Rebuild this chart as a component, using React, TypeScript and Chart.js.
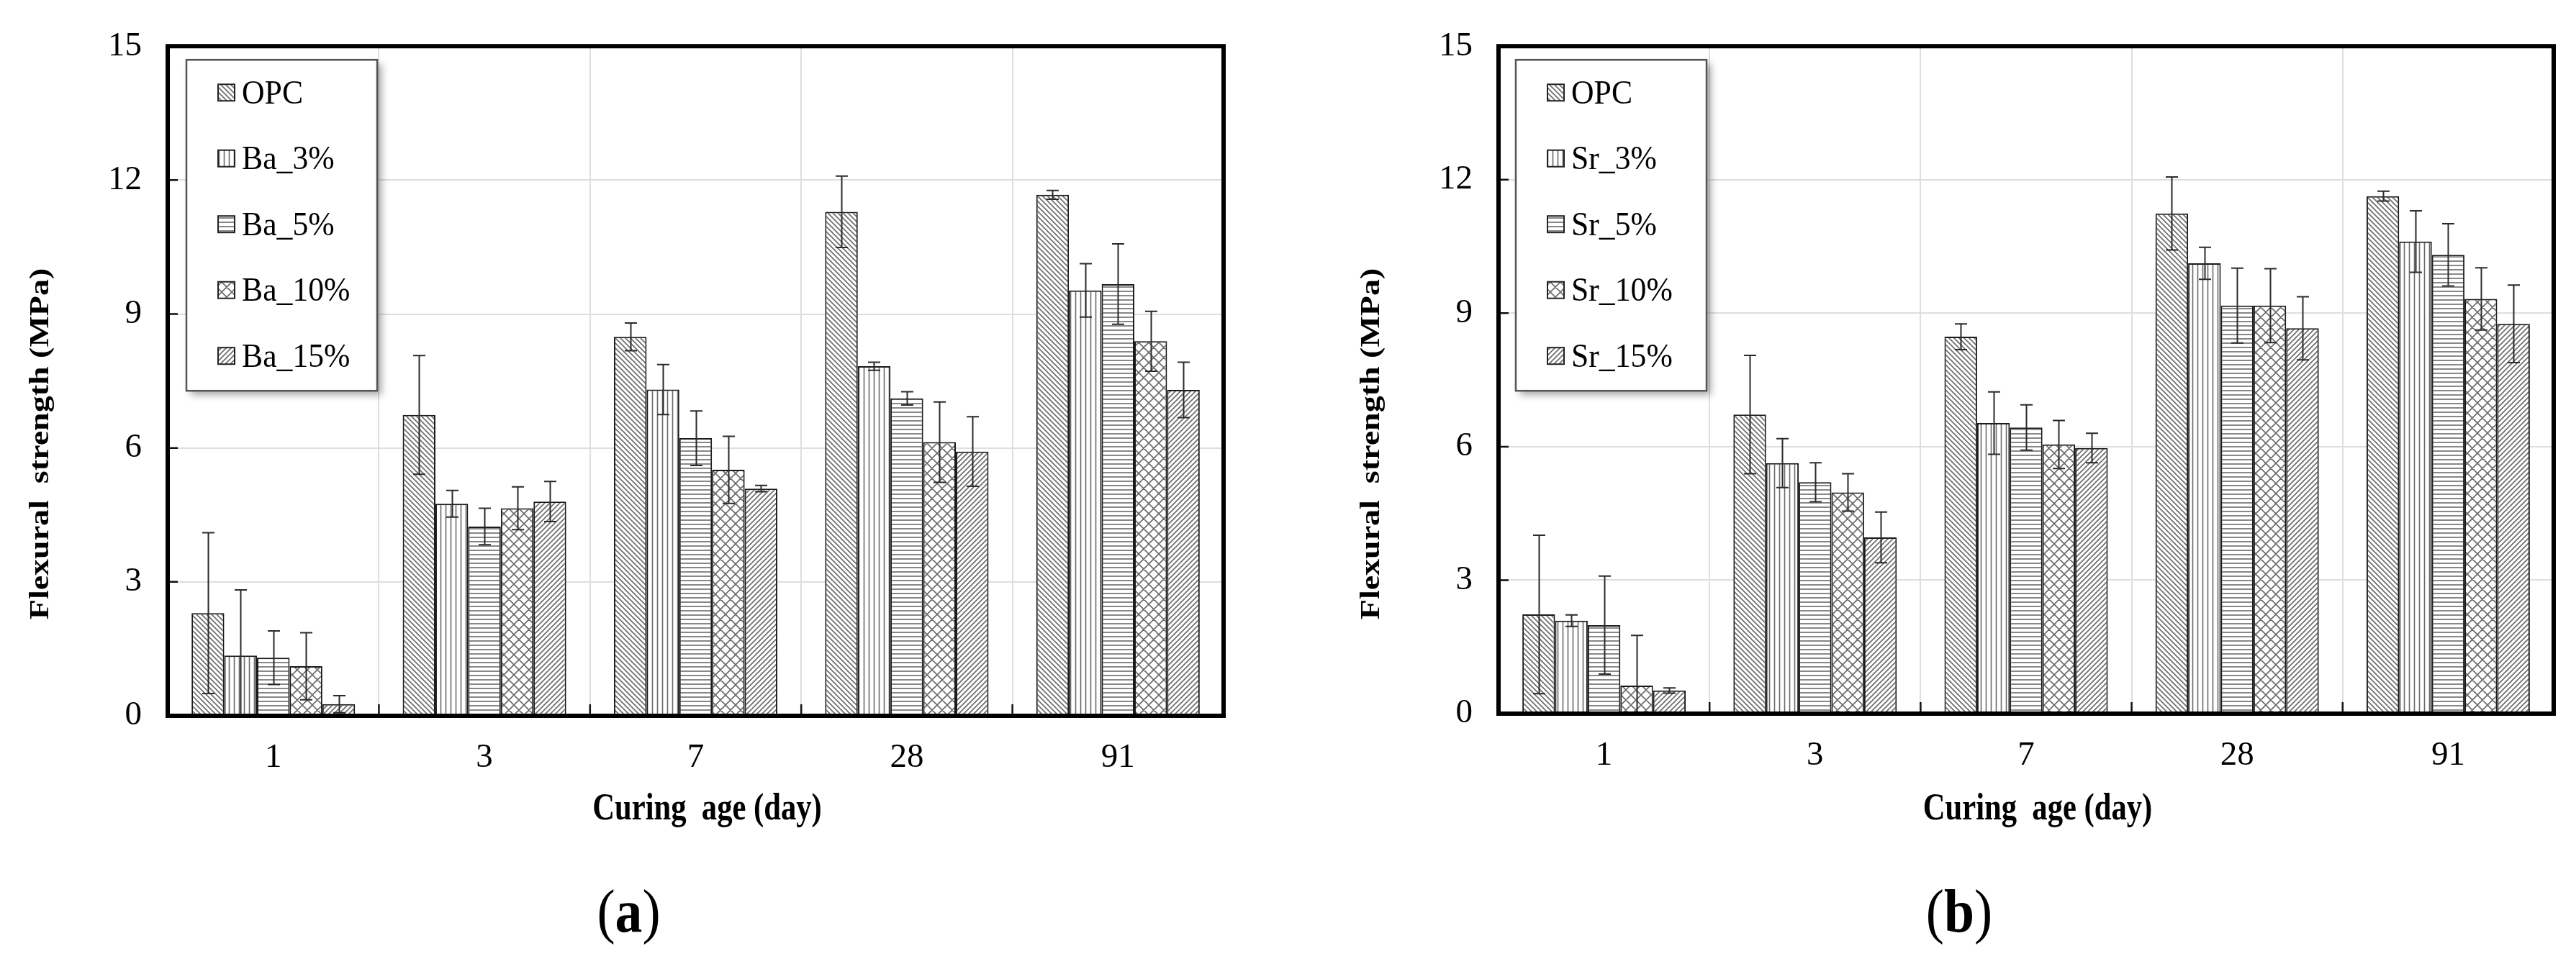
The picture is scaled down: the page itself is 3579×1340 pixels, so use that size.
import React, { useEffect, useRef } from 'react';
import { Chart, registerables } from 'chart.js';
Chart.register(...registerables);

// ---------- data ----------
const categories = ['1', '3', '7', '28', '91'];
const yTickStep = 3;
const yMax = 15;

const seriesNamesA = ['OPC', 'Ba_3%', 'Ba_5%', 'Ba_10%', 'Ba_15%'];
const seriesNamesB = ['OPC', 'Sr_3%', 'Sr_5%', 'Sr_10%', 'Sr_15%'];

const opcA = [2.3, 6.74, 8.49, 11.29, 11.67];
const ba3 = [1.35, 4.75, 7.31, 7.83, 9.53];
const ba5 = [1.3, 4.24, 6.22, 7.11, 9.67];
const ba10 = [1.11, 4.65, 5.51, 6.13, 8.39];
const ba15 = [0.26, 4.8, 5.09, 5.92, 7.3];

const opcAErr = [1.8, 1.33, 0.31, 0.8, 0.1];
const ba3Err = [1.47, 0.3, 0.56, 0.09, 0.6];
const ba5Err = [0.6, 0.41, 0.61, 0.15, 0.9];
const ba10Err = [0.75, 0.48, 0.75, 0.9, 0.67];
const ba15Err = [0.19, 0.45, 0.07, 0.78, 0.62];

const opcB = [2.23, 6.72, 8.47, 11.24, 11.63];
const sr3 = [2.09, 5.63, 6.53, 10.12, 10.61];
const sr5 = [1.99, 5.2, 6.43, 9.17, 10.31];
const sr10 = [0.63, 4.97, 6.05, 9.17, 9.32];
const sr15 = [0.52, 3.96, 5.97, 8.66, 8.76];

const opcBErr = [1.78, 1.33, 0.29, 0.82, 0.11];
const sr3Err = [0.13, 0.55, 0.7, 0.36, 0.69];
const sr5Err = [1.1, 0.44, 0.51, 0.84, 0.7];
const sr10Err = [1.13, 0.42, 0.54, 0.83, 0.7];
const sr15Err = [0.06, 0.57, 0.33, 0.71, 0.87];

const patternKinds = ['diagDown', 'vert', 'horiz', 'cross', 'diagUp'];

const yTitle = 'Flexural  strength (MPa)';
const xTitle = 'Curing  age (day)';

const SERIF = '"Liberation Serif", "Times New Roman", serif';

// ---------- patterns ----------
function makePattern(kind: string): CanvasPattern | string {
  const c = document.createElement('canvas');
  let w = 7, h = 7;
  if (kind === 'vert') { w = 7; h = 4; }
  if (kind === 'horiz') { w = 4; h = 6; }
  if (kind === 'cross') { w = 14; h = 14; }
  c.width = w; c.height = h;
  const g = c.getContext('2d')!;
  g.fillStyle = '#ffffff';
  g.fillRect(0, 0, w, h);
  g.strokeStyle = '#6a6a6a';
  g.lineWidth = 1.6;
  g.beginPath();
  if (kind === 'diagDown' || kind === 'cross') {
    g.moveTo(-1, -1); g.lineTo(w + 1, h + 1);
    g.moveTo(-2, h - 2); g.lineTo(2, h + 2);
    g.moveTo(w - 2, -2); g.lineTo(w + 2, 2);
  }
  if (kind === 'diagUp' || kind === 'cross') {
    g.moveTo(-1, h + 1); g.lineTo(w + 1, -1);
    g.moveTo(-2, 2); g.lineTo(2, -2);
    g.moveTo(w - 2, h + 2); g.lineTo(w + 2, h - 2);
  }
  if (kind === 'vert') {
    g.moveTo(w / 2, 0); g.lineTo(w / 2, h);
  }
  if (kind === 'horiz') {
    g.moveTo(0, h / 2); g.lineTo(w, h / 2);
  }
  g.stroke();
  const p = g.createPattern(c, 'repeat');
  return p || '#ccc';
}

function squishText(ctx: CanvasRenderingContext2D, text: string, x: number, y: number, sx: number, rotate = false) {
  ctx.save();
  ctx.translate(x, y);
  ctx.scale(sx, 1);
  if (rotate) ctx.rotate(-Math.PI / 2);
  ctx.fillText(text, 0, 0);
  ctx.restore();
}

// ---------- panel decoration plugin ----------
const decorPlugin = {
  id: 'decor',
  afterDatasetsDraw(chart: any, _args: any, opts: any) {
    const { ctx, chartArea: a, scales } = chart;
    const ys = scales.y;
    ctx.save();
    // error bars
    ctx.strokeStyle = '#2a2a2a';
    ctx.lineWidth = 2;
    const capHalf = 8.5;
    (opts.errors as number[][]).forEach((errs, di) => {
      const meta = chart.getDatasetMeta(di);
      const vals = chart.data.datasets[di].data as number[];
      meta.data.forEach((el: any, j: number) => {
        const v = vals[j];
        const e = errs[j];
        const px = Math.round(el.x) + 0.5;
        const top = ys.getPixelForValue(v + e);
        const low = v - e;
        const bot = ys.getPixelForValue(Math.max(low, 0));
        ctx.beginPath();
        ctx.moveTo(px, top); ctx.lineTo(px, bot);
        ctx.moveTo(px - capHalf, top); ctx.lineTo(px + capHalf, top);
        if (low > 0) { ctx.moveTo(px - capHalf, bot); ctx.lineTo(px + capHalf, bot); }
        ctx.stroke();
      });
    });
    // inner tick marks
    ctx.strokeStyle = '#111';
    ctx.lineWidth = 2.5;
    ctx.beginPath();
    for (let v = yTickStep; v < yMax; v += yTickStep) {
      const py = ys.getPixelForValue(v);
      ctx.moveTo(a.left, py); ctx.lineTo(a.left + 14, py);
    }
    const n = categories.length;
    const cw = (a.right - a.left) / n;
    for (let i = 1; i < n; i++) {
      const px = a.left + cw * i;
      ctx.moveTo(px, a.bottom); ctx.lineTo(px, a.bottom - 16);
    }
    ctx.stroke();
    // frame
    ctx.strokeStyle = '#000';
    ctx.lineWidth = 6;
    ctx.strokeRect(a.left, a.top, a.right - a.left, a.bottom - a.top);

    // legend
    const lx = a.left + opts.legendDx;
    const ly = a.top + 19;
    const lw = 265, lh = 460;
    ctx.save();
    ctx.shadowColor = 'rgba(0,0,0,0.35)';
    ctx.shadowBlur = 10;
    ctx.shadowOffsetX = 6;
    ctx.shadowOffsetY = 6;
    ctx.fillStyle = '#fff';
    ctx.fillRect(lx, ly, lw, lh);
    ctx.restore();
    ctx.strokeStyle = '#555';
    ctx.lineWidth = 2.5;
    ctx.strokeRect(lx, ly, lw, lh);
    const names = opts.names as string[];
    names.forEach((name, i) => {
      const cy = ly + 46 + i * 91.5;
      const ds = chart.data.datasets[i];
      ctx.fillStyle = ds.backgroundColor;
      ctx.fillRect(lx + 44, cy - 12, 23, 23);
      ctx.strokeStyle = '#222';
      ctx.lineWidth = 2;
      ctx.strokeRect(lx + 44, cy - 12, 23, 23);
      ctx.fillStyle = '#000';
      ctx.font = `47px ${SERIF}`;
      ctx.textAlign = 'left';
      ctx.textBaseline = 'middle';
      squishText(ctx, name, lx + 77, cy + 2, 0.93);
    });
    ctx.restore();
  },
  afterDraw(chart: any, _args: any, opts: any) {
    const { ctx, chartArea: a } = chart;
    ctx.save();
    ctx.fillStyle = '#000';
    ctx.textAlign = 'center';
    ctx.textBaseline = 'middle';
    // y title
    ctx.font = `bold 46px ${SERIF}`;
    squishText(ctx, yTitle, a.left - 176, 617, 0.82, true);
    // x title
    ctx.font = `bold 52px ${SERIF}`;
    squishText(ctx, xTitle, (a.left + a.right) / 2 + 16, 1126, 0.82);
    // caption
    const cx = (a.left + a.right) / 2 - 93;
    const cyy = 1273;
    const sx = 0.9;
    const f = 84;
    ctx.font = `${f}px ${SERIF}`;
    const wp = ctx.measureText('(').width;
    const wp2 = ctx.measureText(')').width;
    ctx.font = `bold ${f}px ${SERIF}`;
    const wl = ctx.measureText(opts.caption).width;
    const total = (wp + wl + wp2) * sx;
    const x0 = cx - total / 2;
    ctx.textAlign = 'left';
    ctx.font = `${f}px ${SERIF}`;
    squishText(ctx, '(', x0, cyy, sx);
    ctx.font = `bold ${f}px ${SERIF}`;
    squishText(ctx, opts.caption, x0 + wp * sx, cyy, sx);
    ctx.font = `${f}px ${SERIF}`;
    squishText(ctx, ')', x0 + (wp + wl) * sx, cyy, sx);
    ctx.restore();
  },
};

type PanelProps = {
  width: number;
  left: number;
  plotLeft: number;
  plotRight: number;
  plotTop: number;
  plotBottom: number;
  names: string[];
  values: number[][];
  errors: number[][];
  caption: string;
  legendDx: number;
};

function Panel(p: PanelProps) {
  const ref = useRef<HTMLCanvasElement>(null);
  useEffect(() => {
    const canvas = ref.current!;
    const H = 1340;
    const chart = new Chart(canvas, {
      type: 'bar',
      data: {
        labels: categories,
        datasets: p.values.map((vals, i) => ({
          label: p.names[i],
          data: vals,
          backgroundColor: makePattern(patternKinds[i]) as any,
          borderColor: '#1a1a1a',
          borderWidth: 2,
          barPercentage: 1,
          categoryPercentage: 0.774,
        })),
      },
      options: {
        responsive: false,
        animation: false,
        devicePixelRatio: 1,
        layout: { padding: { left: 0, top: p.plotTop, right: p.width - p.plotRight, bottom: 0 } },
        scales: {
          x: {
            grid: { color: '#dedede', lineWidth: 2, drawTicks: false, offset: true },
            border: { display: false },
            ticks: { color: '#000', font: { family: SERIF, size: 47 }, padding: 30 },
            afterFit: (s: any) => { s.height = H - p.plotBottom; },
          },
          y: {
            min: 0,
            max: yMax,
            grid: { color: '#dedede', lineWidth: 2, drawTicks: false },
            border: { display: false },
            ticks: { stepSize: yTickStep, color: '#000', font: { family: SERIF, size: 47 }, padding: 36 },
            afterFit: (s: any) => { s.width = p.plotLeft; },
          },
        },
        plugins: {
          legend: { display: false },
          tooltip: { enabled: false },
          decor: { errors: p.errors, names: p.names, caption: p.caption, legendDx: p.legendDx },
        } as any,
      },
      plugins: [decorPlugin],
    });
    return () => chart.destroy();
  }, []);
  return (
    <canvas
      ref={ref}
      width={p.width}
      height={1340}
      style={{ position: 'absolute', left: p.left, top: 0, width: p.width, height: 1340 }}
    />
  );
}

export default function App() {
  return (
    <div style={{ position: 'absolute', left: 0, top: 0, width: 3579, height: 1340, background: '#fff' }}>
      <Panel
        width={1790}
        left={0}
        plotLeft={233}
        plotRight={1700}
        plotTop={59}
        plotBottom={995}
        names={seriesNamesA}
        values={[opcA, ba3, ba5, ba10, ba15]}
        errors={[opcAErr, ba3Err, ba5Err, ba10Err, ba15Err]}
        caption="a"
        legendDx={26}
      />
      <Panel
        width={1789}
        left={1790}
        plotLeft={292}
        plotRight={1758}
        plotTop={53}
        plotBottom={992}
        names={seriesNamesB}
        values={[opcB, sr3, sr5, sr10, sr15]}
        errors={[opcBErr, sr3Err, sr5Err, sr10Err, sr15Err]}
        caption="b"
        legendDx={24}
      />
    </div>
  );
}
